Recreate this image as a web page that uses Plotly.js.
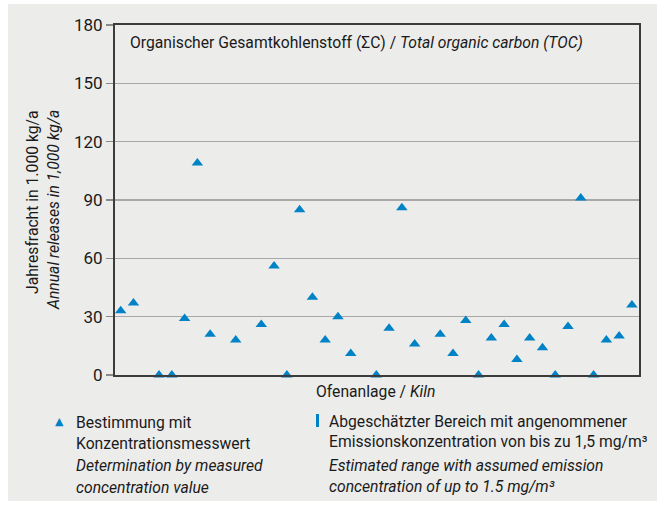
<!DOCTYPE html>
<html>
<head>
<meta charset="utf-8">
<script src="https://cdn.plot.ly/plotly-3.0.1.min.js"></script>
<style>
html,body{margin:0;padding:0;background:#ffffff;}
#chart{width:662px;height:506px;}
</style>
</head>
<body>
<div id="chart"></div>
<script>
// ---- data ----
const kilns = [1,2,3,4,5,6,7,8,9,10,11,12,13,14,15,16,17,18,19,20,21,22,23,24,25,26,27,28,29,30,31,32,33,34,35,36,37,38,39,40,41];
const releases = [33,37,null,0,0,29,109,21,null,18,null,26,56,0,85,40,18,30,11,null,0,24,86,16,null,21,11,28,0,19,26,8,19,14,0,25,91,0,18,20,36];
const yTicks = [0,30,60,90,120,150,180];
const chartTitle = 'Organischer Gesamtkohlenstoff (ΣC) / <i>Total organic carbon (TOC)</i>';
const yTitleDe = 'Jahresfracht in 1.000 kg/a';
const yTitleEn = '<i>Annual releases in 1,000 kg/a</i>';
const xTitle = 'Ofenanlage / <i>Kiln</i>';
const legend1 = ['Bestimmung mit', 'Konzentrationsmesswert', '<i>Determination by measured</i>', '<i>concentration value</i>'];
const legend2 = ['Abgeschätzter Bereich mit angenommener', 'Emissionskonzentration von bis zu 1,5 mg/m³', '<i>Estimated range with assumed emission</i>', '<i>concentration of up to 1.5 mg/m³</i>'];

// ---- layout helpers ----
const W = 662, H = 506;
const M = {l:115, r:23, t:25, b:131};
const PW = W - M.l - M.r, PH = H - M.t - M.b;
const px = x => (x - M.l) / PW;
const py = y => (H - M.b - y) / PH;

const FONT = 'Roboto, "Liberation Sans", sans-serif';
const FS = 15.7;
const TXT = '#1a1a1a';
const BLUE = '#0082c6';

const ann = [];
function label(text, x, y, opts) {
  ann.push(Object.assign({
    text: text, xref: 'paper', yref: 'paper', x: px(x), y: py(y),
    xanchor: 'left', yanchor: 'middle', showarrow: false,
    font: {family: FONT, size: FS, color: TXT}
  }, opts || {}));
}

label(chartTitle, 128, 43);
label(yTitleDe, 32, 108, {textangle: -90, xanchor: 'center', yanchor: 'top'});
label(yTitleEn, 53, 108, {textangle: -90, xanchor: 'center', yanchor: 'top'});
label(xTitle, 375, 392, {xanchor: 'center'});

const l1y = [422, 443.5, 465.5, 487.5];
legend1.forEach((t, i) => label(t, 74, l1y[i]));
const l2y = [421, 441.5, 465, 486];
legend2.forEach((t, i) => label(t, 327, l2y[i]));
// legend symbol: triangle
label('▲', 59, 421, {xanchor: 'center', font: {family: 'DejaVu Sans', size: 11, color: BLUE}});

const shapes = [
  {type: 'rect', xref: 'paper', yref: 'paper', x0: px(8), x1: px(657), y0: py(501), y1: py(4),
   fillcolor: '#ececeb', line: {width: 0}, layer: 'below'},
  {type: 'rect', xref: 'paper', yref: 'paper', x0: px(316), x1: px(319), y0: py(427), y1: py(414),
   fillcolor: BLUE, line: {width: 0}}
];

const trace = {
  type: 'scatter', mode: 'markers', x: kilns, y: releases,
  marker: {symbol: 'triangle-up', size: 10, color: BLUE},
  cliponaxis: false, hoverinfo: 'x+y', showlegend: false
};

const layout = {
  width: W, height: H,
  margin: M,
  paper_bgcolor: 'rgba(0,0,0,0)',
  plot_bgcolor: '#ffffff',
  showlegend: false,
  font: {family: FONT, size: FS, color: TXT},
  xaxis: {
    range: [0.554, 41.554], showgrid: false, zeroline: false,
    showticklabels: false, ticks: '',
    showline: true, linecolor: '#3c3c3c', linewidth: 2, mirror: true
  },
  yaxis: {
    range: [0, 180], tickvals: yTicks, ticktext: yTicks.map(String),
    showgrid: true, gridcolor: '#a8a8a8', gridwidth: 1.5, zeroline: false,
    ticks: 'outside', ticklen: 7, tickcolor: '#8a8a8a', tickwidth: 1.5,
    showline: true, linecolor: '#3c3c3c', linewidth: 2, mirror: true,
    tickfont: {family: FONT, size: 17, color: TXT}
  },
  annotations: ann,
  shapes: shapes
};

Plotly.newPlot('chart', [trace], layout, {displayModeBar: false, staticPlot: true});
</script>
</body>
</html>
